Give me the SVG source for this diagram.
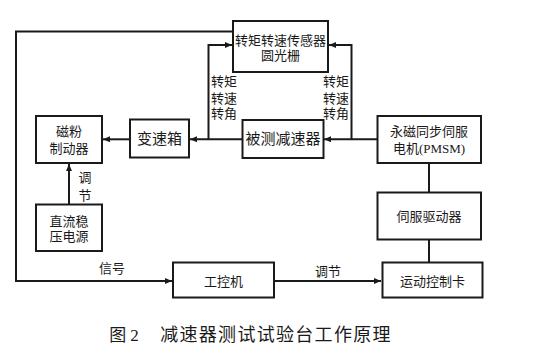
<svg xmlns="http://www.w3.org/2000/svg" width="545" height="356" viewBox="0 0 545 356">
<defs>
<style>
.box{fill:#fff;stroke:#1a1a1a;stroke-width:2}
.ln{fill:none;stroke:#1a1a1a;stroke-width:2}
text{font-family:"Liberation Serif","Noto Sans CJK SC",serif;fill:#1a1a1a;text-anchor:middle;dominant-baseline:central}
.t13{font-size:13px}
.t15{font-size:15px}
</style>
<marker id="ah" markerWidth="8" markerHeight="8" refX="7" refY="4" orient="auto" markerUnits="userSpaceOnUse">
<path d="M0,1 L7,4 L0,7 Z" fill="#1a1a1a"/>
</marker>
</defs>
<rect width="545" height="356" fill="#fff"/>
<g id="connectors">
<path class="ln" d="M233,31.5 H16 V281 H172" marker-end="url(#ah)"/>
<path class="ln" d="M377.5,139.3 H324" marker-end="url(#ah)"/>
<path class="ln" d="M242,139.3 H190" marker-end="url(#ah)"/>
<path class="ln" d="M130,139.3 H103" marker-end="url(#ah)"/>
<path class="ln" d="M208.5,139.3 V45 H232" marker-end="url(#ah)"/>
<path class="ln" d="M351.5,139.3 V45 H329" marker-end="url(#ah)"/>
<path class="ln" d="M69,204 V164" marker-end="url(#ah)"/>
<path class="ln" d="M429,163 V192.5"/>
<path class="ln" d="M429,239.5 V262.5"/>
<path class="ln" d="M274,281 H381" marker-end="url(#ah)"/>
<text class="t13" x="224" y="81">转矩</text>
<text class="t13" x="224" y="98">转速</text>
<text class="t13" x="224" y="113">转角</text>
<text class="t13" x="336" y="81">转矩</text>
<text class="t13" x="336" y="98">转速</text>
<text class="t13" x="336" y="113">转角</text>
<text class="t13" x="85" y="177">调</text>
<text class="t13" x="85" y="195">节</text>
<text class="t13" x="112" y="268">信号</text>
<text class="t13" x="328" y="271">调节</text>
</g>
<g id="sensor"><rect class="box" x="233" y="21" width="95" height="51"/>
<text class="t13" x="280.5" y="40">转矩转速传感器</text><text class="t13" x="280.5" y="55">圆光栅</text></g>
<g id="brake"><rect class="box" x="36" y="116" width="66" height="47"/>
<text class="t13" x="69" y="131">磁粉</text><text class="t13" x="69" y="148">制动器</text></g>
<g id="gearbox"><rect class="box" x="130" y="119.5" width="59" height="38"/>
<text class="t15" x="159.5" y="139">变速箱</text></g>
<g id="reducer"><rect class="box" x="242.5" y="120" width="81" height="38"/>
<text class="t15" x="283" y="139">被测减速器</text></g>
<g id="motor"><rect class="box" x="377.5" y="116" width="103.5" height="47"/>
<text class="t13" x="429" y="131">永磁同步伺服</text><text class="t13" x="429" y="148">电机(PMSM)</text></g>
<g id="power"><rect class="box" x="36" y="204.5" width="66" height="46.5"/>
<text class="t13" x="69" y="221.5">直流稳</text><text class="t13" x="69" y="236.5">压电源</text></g>
<g id="driver"><rect class="box" x="377.5" y="192.5" width="103.5" height="47"/>
<text class="t13" x="429" y="216.5">伺服驱动器</text></g>
<g id="ipc"><rect class="box" x="173" y="262.5" width="101" height="35"/>
<text class="t13" x="223.5" y="281">工控机</text></g>
<g id="card"><rect class="box" x="382.5" y="262.5" width="100" height="35"/>
<text class="t13" x="432.5" y="281">运动控制卡</text></g>
<text x="124" y="335" style="font-size:17px">图 2</text>
<text x="276" y="335" style="font-size:18px;letter-spacing:1.3px">减速器测试试验台工作原理</text>
</svg>
